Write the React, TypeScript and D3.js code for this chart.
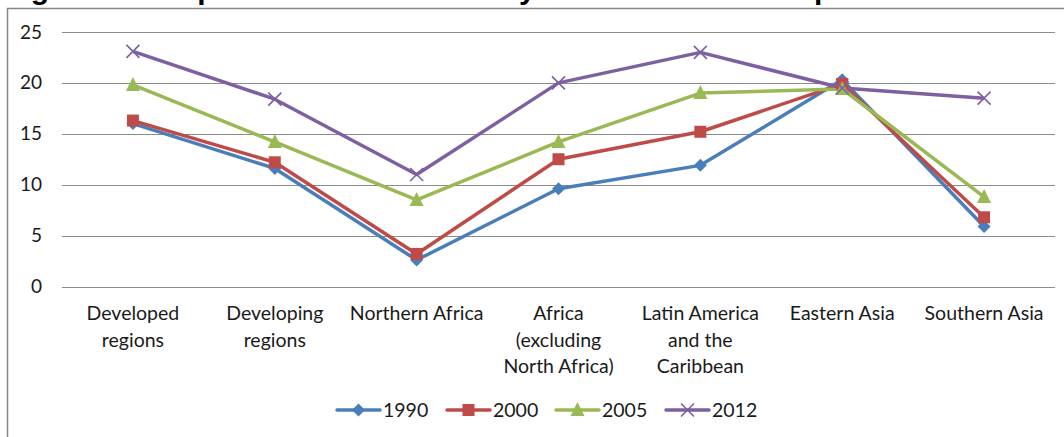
import React from "react";
import * as d3 from "d3";

const categories: string[][] = [
  ["Developed", "regions"],
  ["Developing", "regions"],
  ["Northern Africa"],
  ["Africa", "(excluding", "North Africa)"],
  ["Latin America", "and the", "Caribbean"],
  ["Eastern Asia"],
  ["Southern Asia"],
];
const s1990 = [16.0, 11.6, 2.6, 9.6, 11.9, 20.3, 5.9];
const s2000 = [16.3, 12.2, 3.2, 12.5, 15.2, 19.9, 6.8];
const s2005 = [19.8, 14.2, 8.5, 14.2, 19.0, 19.4, 8.8];
const s2012 = [23.1, 18.4, 11.0, 20.0, 23.0, 19.5, 18.5];
const yTicks = [0, 5, 10, 15, 20, 25];
const seriesNames = ["1990", "2000", "2005", "2012"];
const title = "Figure 6 - Proportion of seats held by women in national parliaments";

const colors = ["#4A7EBB", "#BE4B48", "#98B954", "#7D60A0"];
const markers = ["diamond", "square", "triangle", "x"];

const W = 1064, H = 437;
const font = "Lato, 'Open Sans', sans-serif";

function Marker({ kind, x, y, color }: { kind: string; x: number; y: number; color: string }) {
  if (kind === "diamond") {
    const r = 6.5;
    return <path d={`M${x},${y - r}L${x + r},${y}L${x},${y + r}L${x - r},${y}Z`} fill={color} />;
  }
  if (kind === "square") {
    const r = 6;
    return <rect x={x - r} y={y - r} width={2 * r} height={2 * r} fill={color} />;
  }
  if (kind === "triangle") {
    const r = 7;
    return <path d={`M${x},${y - r - 1}L${x + r},${y + r - 1}L${x - r},${y + r - 1}Z`} fill={color} />;
  }
  const r = 6.5;
  return (
    <path d={`M${x - r},${y - r}L${x + r},${y + r}M${x - r},${y + r}L${x + r},${y - r}`} stroke={color} strokeWidth={1.6} fill="none" />
  );
}

export default function App() {
  const series = [s1990, s2000, s2005, s2012];
  const x = d3.scaleBand<number>().domain(d3.range(categories.length)).range([62, 1055]);
  const cx = (i: number) => (x(i) as number) + x.bandwidth() / 2;
  const y = d3.scaleLinear().domain([0, 25]).range([286.5, 32]);
  const line = d3.line<number>().x((_, i) => cx(i)).y((v) => y(v));

  const legendLine = [337, 447, 556, 666];

  return (
    <svg width={W} height={H} style={{ position: "absolute", left: 0, top: 0, display: "block", background: "#fff" }}>
      <text x={4} y={-1.5} fontFamily="'Liberation Sans', Arial, sans-serif" fontWeight="bold" fontSize={30} fill="#000">
        {title}
      </text>
      <rect x={7.5} y={8.5} width={1070} height={440} fill="#fff" stroke="#868686" strokeWidth={1.5} />
      {yTicks.map((t) => (
        <g key={t}>
          <line x1={62} x2={1055} y1={Math.round(y(t)) + 0.5} y2={Math.round(y(t)) + 0.5} stroke="#8c8c8c" strokeWidth={1} />
          <text x={42} y={y(t) + 6.5} textAnchor="end" fontFamily={font} fontSize={19} fill="#1a1a1a">
            {t}
          </text>
        </g>
      ))}
      {categories.map((lines, i) => (
        <text key={i} textAnchor="middle" fontFamily={font} fontSize={19.5} fill="#1a1a1a">
          {lines.map((l, j) => (
            <tspan key={j} x={cx(i)} y={320 + j * 26.5}>
              {l}
            </tspan>
          ))}
        </text>
      ))}
      {series.map((s, k) => (
        <path key={k} d={line(s) || ""} fill="none" stroke={colors[k]} strokeWidth={3.5} strokeLinejoin="round" />
      ))}
      {series.map((s, k) => (
        <g key={k}>
          {s.map((v, i) => (
            <Marker key={i} kind={markers[k]} x={cx(i)} y={y(v)} color={colors[k]} />
          ))}
        </g>
      ))}
      {seriesNames.map((n, k) => (
        <g key={n}>
          <line x1={legendLine[k]} x2={legendLine[k] + 43} y1={410} y2={410} stroke={colors[k]} strokeWidth={3.5} strokeLinecap="round" />
          <Marker kind={markers[k]} x={legendLine[k] + 21.5} y={410} color={colors[k]} />
          <text x={legendLine[k] + 46} y={417} fontFamily={font} fontSize={19.5} fill="#1a1a1a">
            {n}
          </text>
        </g>
      ))}
    </svg>
  );
}
